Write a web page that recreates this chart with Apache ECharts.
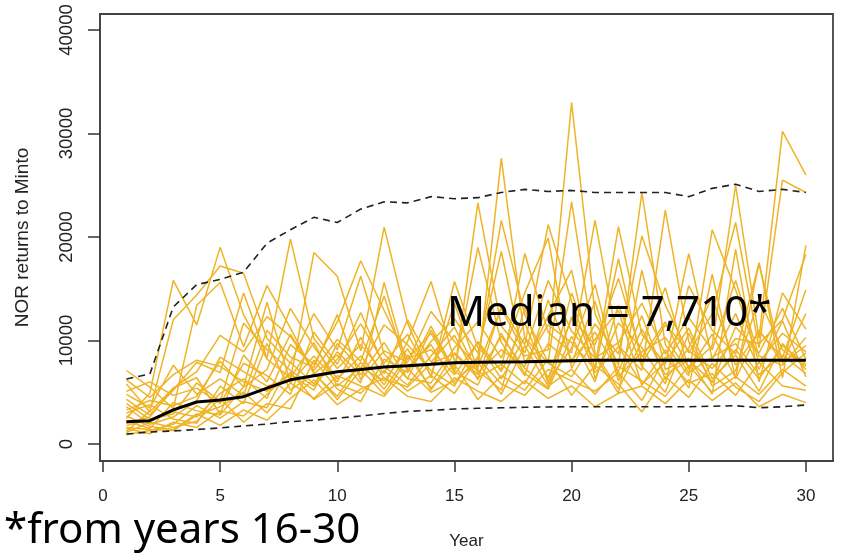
<!DOCTYPE html>
<html>
<head>
<meta charset="utf-8">
<script src="https://cdn.jsdelivr.net/npm/echarts@6/dist/echarts.min.js"></script>
<style>html,body{margin:0;padding:0;background:#fff;}#c{width:845px;height:555px;}</style>
</head>
<body>
<div id="c"></div>
<script>
const years = [1,2,3,4,5,6,7,8,9,10,11,12,13,14,15,16,17,18,19,20,21,22,23,24,25,26,27,28,29,30];
const xTicks = [0,5,10,15,20,25,30];
const yTicks = [0,10000,20000,30000,40000];

const medianLine = [2150,2250,3300,4060,4250,4570,5400,6200,6600,6990,7200,7440,7550,7700,7860,7900,7930,7950,8000,8050,8080,8100,8100,8100,8100,8100,8100,8100,8100,8100];
const upperLine = [6280,6760,13240,15400,15900,16600,19400,20700,21900,21400,22700,23400,23300,23900,23700,23800,24300,24600,24400,24500,24300,24300,24300,24300,23900,24700,25100,24400,24600,24300];
const lowerLine = [960,1160,1260,1400,1550,1750,1930,2150,2300,2500,2700,2950,3150,3250,3380,3450,3500,3550,3580,3600,3600,3600,3600,3600,3600,3650,3700,3500,3600,3770];

const sim1 = [2500,4900,15800,11500,19000,12500,8200,6400,9800,5600,7400,6100,9200,5200,8800,6700,10400,7300,5400,12300,6900,9400,5800,7900,11200,6300,8600,5100,9700,7200];
const sim2 = [1200,3200,12000,14400,17200,16500,10200,7800,12600,9100,16200,8700,6300,11000,7200,19000,9800,6600,13900,8100,10800,7000,12400,6200,9300,14200,7600,10900,8300,14900];
const sim3 = [7100,5500,3400,13400,15600,9400,15300,11200,6800,8600,5900,15600,7400,9600,5800,8400,21600,12500,7900,23400,8800,5300,9900,15100,7200,10600,6400,17500,7800,9500];
const sim4 = [4300,2800,5200,7900,6900,14600,8300,19800,10200,7300,9600,6800,12000,7900,10500,6200,13300,9600,21200,13800,7400,21000,10600,7700,18400,8200,12600,7200,11900,6500];
const sim5 = [3600,1900,2600,4200,8400,7000,5600,6200,18500,16200,9000,20960,11700,6400,15700,9300,7200,18400,10800,8800,21600,9500,7100,22600,9900,5900,11300,8800,13100,8200];
const sim6 = [1800,2300,3100,2600,4900,6300,4400,9600,7700,11800,17700,12900,8200,10700,6900,23300,11400,8500,9100,33000,12600,7600,24300,9600,6600,20700,14900,7900,10700,8900];
const sim7 = [2200,1500,4000,3200,2800,5500,7200,13100,9400,6300,8500,5700,9900,15700,8100,7200,27600,10200,6400,12100,9600,16000,8400,11800,7300,9500,25000,10200,30200,26000];
const sim8 = [900,1300,1900,3700,2500,4100,3500,7900,5800,8900,6700,9800,6300,5900,9300,11800,8300,14600,19900,7300,11600,8700,20100,13400,8800,12600,21400,9300,25500,24300];
const sim9 = [5100,6000,4700,5400,3900,7800,6600,4800,10800,7700,12700,7500,5700,8500,11300,6900,9100,7500,12400,16800,6300,11700,9300,5800,15300,11000,8700,17500,6400,19200];
const sim10 = [1500,1000,2100,1600,3200,2700,4800,6900,4300,5800,4900,7100,5100,6600,4900,8300,5800,4700,7200,6100,5100,6900,4200,8400,5900,6800,4700,7900,5600,5200];
const sim11 = [3000,3800,2400,2000,5600,3900,9700,5200,6800,4600,7900,5300,8600,5400,7700,4300,6600,5200,8200,4700,7600,5800,3100,6500,4500,7800,5500,4100,6900,8800];
const sim12 = [2700,1700,1400,2900,1800,3300,2300,4400,6200,3800,5300,6400,4600,4100,6400,5100,4100,6100,4400,5600,3600,4900,5600,3900,6200,4200,5900,3600,4800,4000];
const sim13 = [6200,4500,6700,8100,7500,6000,5100,6700,5200,9700,7300,11500,9600,7100,5600,9900,7000,11700,6100,9300,15400,6500,8900,10300,6900,8400,9700,6700,8600,6800];
const sim14 = [1100,2100,1600,2200,4400,2100,3900,3400,8100,5300,4100,8200,6900,11400,7000,5700,10700,6800,5300,10400,6000,13400,7500,5000,10700,5600,7100,14000,9100,7500];
const sim15 = [4800,3500,7600,4800,6300,4700,11000,8400,7400,12500,6200,9000,7900,12800,9900,7500,13100,8800,15800,10900,8300,9800,13600,8700,12200,9100,15800,8500,7600,10300];
const sim16 = [1600,1400,1300,2800,3600,5000,3000,5900,4400,6600,5600,4600,7300,5000,6100,7900,4800,9500,5600,7200,4800,7500,6100,4600,7600,5000,6500,4800,7200,5600];
const sim17 = [5800,3100,5400,6400,2900,8600,6000,10600,6900,4300,7200,4800,8300,9100,6700,9800,6300,10300,7800,6500,10100,12900,5700,9100,5400,16400,6300,11000,7900,12600];
const sim18 = [3300,4200,3700,4600,8000,5500,13700,5900,8500,6000,10300,6300,5500,7800,8700,6400,7700,5800,9700,7800,13800,6100,11100,6700,8100,6000,9100,6300,9500,7700];
const sim19 = [2000,2600,5400,7000,10500,8900,12300,10400,7100,10100,8000,14300,7000,9900,12100,8800,18600,7800,11500,9800,7200,17900,7800,11500,9000,7300,10200,9700,12000,18300];
const sim20 = [3900,2400,2900,5900,4100,11700,9100,7100,5600,8200,11600,7800,10600,6600,13600,7100,5200,13200,5800,14600,8500,4900,16800,7200,8300,4800,18800,6000,14600,11100];

const sims = [sim1,sim2,sim3,sim4,sim5,sim6,sim7,sim8,sim9,sim10,sim11,sim12,sim13,sim14,sim15,sim16,sim17,sim18,sim19,sim20];

const medianText = 'Median = 7,710*';
const footText = '*from years 16-30';
const xName = 'Year';
const yName = 'NOR returns to Minto';

const pair = arr => years.map((y, i) => [y, arr[i]]);

const series = [];
sims.forEach((s, k) => {
  series.push({
    type: 'line', name: 'sim' + (k + 1), data: pair(s), symbol: 'none',
    lineStyle: { color: '#EFB426', width: 1.5 }, z: 2, silent: true
  });
});
series.push({ type: 'line', name: 'upper', data: pair(upperLine), symbol: 'none',
  lineStyle: { color: '#222', width: 1.6, type: [7, 5] }, z: 3 });
series.push({ type: 'line', name: 'lower', data: pair(lowerLine), symbol: 'none',
  lineStyle: { color: '#222', width: 1.6, type: [7, 5] }, z: 3 });
series.push({ type: 'line', name: 'median', data: pair(medianLine), symbol: 'none',
  lineStyle: { color: '#000', width: 3 }, z: 4 });

const chart = echarts.init(document.getElementById('c'), null, { renderer: 'canvas' });
chart.setOption({
  animation: false,
  backgroundColor: '#fff',
  grid: { left: 100, right: 12, top: 14, bottom: 94, containLabel: false,
    show: true, borderColor: '#444', borderWidth: 1.8, backgroundColor: 'transparent' },
  xAxis: {
    type: 'value', min: -0.128, max: 31.157, position: 'bottom',
    axisLine: { show: true, onZero: false, lineStyle: { color: '#444', width: 1.8 } },
    axisTick: { show: true, inside: false, length: 11, lineStyle: { color: '#333', width: 1.5 }, customValues: xTicks },
    axisLabel: { customValues: xTicks, margin: 27, fontFamily: 'Liberation Sans', fontSize: 17, color: '#222',
      formatter: v => String(v) },
    splitLine: { show: false },
    name: xName, nameLocation: 'middle', nameGap: 72,
    nameTextStyle: { fontFamily: 'Liberation Sans', fontSize: 17, color: '#222' }
  },
  yAxis: {
    type: 'value', min: -1643, max: 41546, position: 'left',
    axisLine: { show: true, onZero: false, lineStyle: { color: '#444', width: 1.8 } },
    axisTick: { show: true, inside: false, length: 12, lineStyle: { color: '#333', width: 1.5 }, customValues: yTicks },
    axisLabel: { customValues: yTicks, rotate: 90, margin: 24, fontFamily: 'Liberation Sans', fontSize: 18.5, color: '#222',
      formatter: v => String(v) },
    splitLine: { show: false },
    name: yName, nameLocation: 'middle', nameGap: 68, nameRotate: 90,
    nameTextStyle: { fontFamily: 'Liberation Sans', fontSize: 19, color: '#222' }
  },
  graphic: [
    { type: 'text', x: 447, y: 314, z: 20,
      style: { text: medianText, fontFamily: 'Noto Sans', fontSize: 42, fill: '#000', textVerticalAlign: 'middle', textAlign: 'left' } },
    { type: 'text', x: 4, y: 531, z: 20,
      style: { text: footText, fontFamily: 'Noto Sans', fontSize: 42, fill: '#000', textVerticalAlign: 'middle', textAlign: 'left' } }
  ],
  series: series
});
</script>
</body>
</html>
